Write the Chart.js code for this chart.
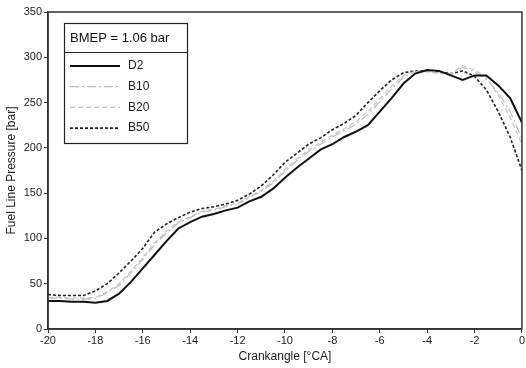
<!DOCTYPE html>
<html>
<head>
<meta charset="utf-8">
<script src="https://cdn.jsdelivr.net/npm/chart.js@4"></script>
<style>
  html, body { margin: 0; padding: 0; background: #fff; }
  #wrap { width: 526px; height: 368px; }
</style>
</head>
<body>
<div id="wrap"><canvas id="myChart" width="526" height="368"></canvas></div>
<script>
// crank angle positions [°CA]
var angles = [-20, -19.5, -19, -18.5, -18, -17.5, -17, -16.5, -16, -15.5, -15, -14.5, -14, -13.5, -13, -12.5, -12, -11.5, -11, -10.5,
    -10, -9.5, -9, -8.5, -8, -7.5, -7, -6.5, -6, -5.5, -5, -4.5, -4, -3.5, -3, -2.5, -2, -1.5, -1, -0.5, 0];

var d2 = [31, 31, 30, 30, 29, 31, 39, 52, 67, 82, 97, 111, 118, 124, 127, 131, 134, 141, 146, 155,
    167, 178, 188, 198, 204, 212, 218, 225, 240, 255, 271, 282, 286, 285, 280, 275, 280, 280, 269, 255, 228];
var b10 = [34, 34, 33, 33, 34, 40, 48, 62, 77, 93, 106, 117, 123, 129, 131, 135, 138, 145, 152, 161,
    174, 186, 196, 204, 212, 219, 226, 237, 251, 265, 278, 284, 285, 283, 281, 289, 284, 276, 261, 240, 210];
var b20 = [35, 35, 34, 34, 35, 41, 50, 64, 79, 95, 108, 118, 124, 130, 132, 136, 139, 146, 153, 163,
    176, 188, 198, 206, 214, 221, 229, 240, 254, 268, 280, 285, 284, 282, 282, 291, 286, 278, 258, 234, 204];
var b50 = [38, 37, 37, 37, 42, 50, 62, 75, 89, 107, 116, 123, 129, 133, 135, 138, 142, 149, 158, 170,
    184, 194, 204, 211, 220, 227, 236, 250, 263, 275, 283, 285, 285, 284, 282, 285, 279, 264, 240, 212, 175];

var seriesNames = ['D2', 'B10', 'B20', 'B50'];
var yTicks = [0, 50, 100, 150, 200, 250, 300, 350];
var xTicks = [-20, -18, -16, -14, -12, -10, -8, -6, -4, -2, 0];

function toPoints(values) {
    return values.map(function (v, i) { return { x: angles[i], y: v }; });
}

const fontFamily = "'Liberation Sans', Arial, sans-serif";

// box legend with header, drawn inside the plot area
const boxLegend = {
    id: 'boxLegend',
    afterDraw: function (chart) {
        const ctx = chart.ctx;
        const area = chart.chartArea;
        ctx.save();
        // frame round the plot
        ctx.strokeStyle = '#333';
        ctx.lineWidth = 1.5;
        ctx.strokeRect(area.left, area.top, area.right - area.left, area.bottom - area.top);

        const bx = 64.5, by = 23.5, bw = 123, bh = 120;
        ctx.fillStyle = '#fff';
        ctx.fillRect(bx, by, bw, bh);
        ctx.strokeStyle = '#222';
        ctx.lineWidth = 1.2;
        ctx.strokeRect(bx, by, bw, bh);
        ctx.beginPath();
        ctx.moveTo(bx, 52.5);
        ctx.lineTo(bx + bw, 52.5);
        ctx.stroke();

        ctx.fillStyle = '#111';
        ctx.font = '13px ' + fontFamily;
        ctx.textBaseline = 'middle';
        ctx.fillText('BMEP = 1.06 bar', 70, 38);

        ctx.font = '12px ' + fontFamily;
        chart.data.datasets.forEach(function (ds, i) {
            const yy = 66 + i * 20.7;
            ctx.strokeStyle = ds.borderColor;
            ctx.lineWidth = ds.borderWidth;
            ctx.setLineDash(ds.borderDash || []);
            ctx.beginPath();
            ctx.moveTo(70, yy);
            ctx.lineTo(120, yy);
            ctx.stroke();
            ctx.setLineDash([]);
            ctx.fillStyle = '#222';
            ctx.fillText(ds.label, 128, yy);
        });
        ctx.restore();
    }
};

const ctx = document.getElementById('myChart').getContext('2d');
const myChart = new Chart(ctx, {
    type: 'line',
    data: {
        datasets: [
            { label: seriesNames[0], data: toPoints(d2), borderColor: '#111', borderWidth: 2, borderDash: [] },
            { label: seriesNames[1], data: toPoints(b10), borderColor: '#bdbdbd', borderWidth: 1.2, borderDash: [9, 3, 2, 3] },
            { label: seriesNames[2], data: toPoints(b20), borderColor: '#c4c4c4', borderWidth: 1.2, borderDash: [5, 3] },
            { label: seriesNames[3], data: toPoints(b50), borderColor: '#222', borderWidth: 1.6, borderDash: [3, 2] }
        ]
    },
    options: {
        responsive: false,
        animation: false,
        devicePixelRatio: 1,
        layout: { padding: { top: 12, right: 1, left: 0, bottom: 0 } },
        elements: { point: { radius: 0 }, line: { tension: 0 } },
        plugins: { legend: { display: false }, tooltip: { enabled: false } },
        scales: {
            x: {
                type: 'linear',
                min: -20, max: 0,
                afterBuildTicks: function (axis) { axis.ticks = xTicks.map(function (v) { return { value: v }; }); },
                afterFit: function (axis) { axis.height = 39; },
                grid: { drawOnChartArea: false, drawTicks: true, tickLength: 4, color: '#333' },
                border: { display: true, color: '#333', width: 1.5 },
                ticks: { color: '#222', font: { family: fontFamily, size: 11 }, padding: 1, maxRotation: 0 },
                title: { display: true, text: 'Crankangle [°CA]', color: '#222', font: { family: fontFamily, size: 12 }, padding: { top: 2 } }
            },
            y: {
                type: 'linear',
                min: 0, max: 350,
                afterBuildTicks: function (axis) { axis.ticks = yTicks.map(function (v) { return { value: v }; }); },
                afterFit: function (axis) { axis.width = 48; },
                grid: { drawOnChartArea: false, drawTicks: true, tickLength: 4, color: '#333' },
                border: { display: true, color: '#333', width: 1.5 },
                ticks: { color: '#222', font: { family: fontFamily, size: 11 }, padding: 2 },
                title: { display: true, text: 'Fuel Line Pressure [bar]', color: '#222', font: { family: fontFamily, size: 12 }, padding: { bottom: 0 } }
            }
        }
    },
    plugins: [boxLegend]
});
</script>
</body>
</html>
